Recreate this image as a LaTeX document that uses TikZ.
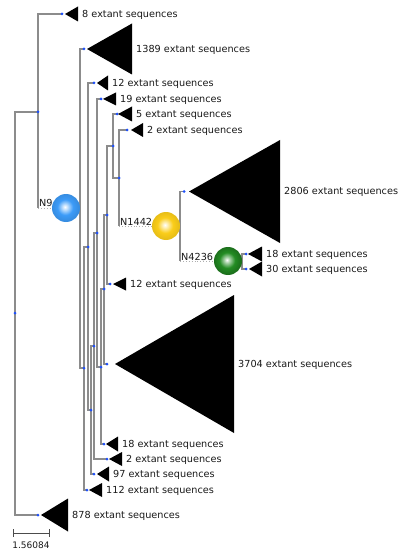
\documentclass[tikz,border=0pt]{standalone}
\usepackage{fontspec}
\setmainfont{DejaVu Sans}
\definecolor{branchgray}{RGB}{140,140,140}
\definecolor{dotblue}{RGB}{30,80,250}
\definecolor{nineblue}{RGB}{60,155,248}
\definecolor{kyellow}{RGB}{250,205,25}
\definecolor{kgreen}{RGB}{35,140,35}
\pgfdeclareradialshading{ballnine}{\pgfpoint{-2bp}{2bp}}{color(0bp)=(white); color(5bp)=(nineblue!35!white); color(14bp)=(nineblue); color(25bp)=(nineblue!90!black); color(50bp)=(nineblue!90!black)}
\pgfdeclareradialshading{ballyellow}{\pgfpoint{-2bp}{2bp}}{color(0bp)=(white); color(5bp)=(kyellow!35!white); color(14bp)=(kyellow); color(25bp)=(kyellow!92!black); color(50bp)=(kyellow!92!black)}
\pgfdeclareradialshading{ballgreen}{\pgfpoint{-2bp}{2bp}}{color(0bp)=(white); color(5bp)=(kgreen!40!white); color(14bp)=(kgreen); color(25bp)=(kgreen!78!black); color(50bp)=(kgreen!78!black)}
\newcommand\clade[6]{%
  \fill[clade] (#2,#3) -- (#4,#3-#5) -- (#4,#3+#5) -- cycle;
  \node[lbl] (#1) at (#4+4,#3+3.5) {#6};}
\begin{document}
\begin{tikzpicture}[x=1pt,y=-1pt,
  branch/.style={draw=branchgray,line width=1.1pt},
  labbranch/.style={draw=branchgray!70,line width=0.9pt,dotted},
  clade/.style={fill=black},
  lbl/.style={anchor=base west,inner sep=0pt,font=\fontsize{9.7}{11}\selectfont,text=black!90},
  ndlbl/.style={anchor=base west,inner sep=0pt,font=\fontsize{9.7}{11}\selectfont,text=black!90},
  sphere/.style={circle,inner sep=0pt,minimum size=28pt,shade},
  scalebar/.style={draw=black!70,line width=0.9pt}]
\useasboundingbox (0,0) rectangle (401,553);

% internal nodes
\coordinate (R) at (15,313);
\coordinate (K) at (38,112);
\coordinate (N9) at (80,208);
\coordinate (C) at (84,368);
\coordinate (D) at (88,247);
\coordinate (E) at (91,410);
\coordinate (F) at (94,346);
\coordinate (G) at (97,233);
\coordinate (H) at (101,367);
\coordinate (I) at (104,289);
\coordinate (J) at (107,215);
\coordinate (A) at (113,146);
\coordinate (B) at (119,178);
\coordinate (N1442) at (180,226);
\coordinate (N4236) at (242,261);

% collapsed clade tips
\coordinate (t8) at (62,14);
\coordinate (t1389) at (84,49);
\coordinate (t12a) at (94,83);
\coordinate (t19) at (101,99);
\coordinate (t5) at (117,114);
\coordinate (t2a) at (127,130);
\coordinate (t2806) at (184,191.5);
\coordinate (t18a) at (246,254);
\coordinate (t30) at (246,269);
\coordinate (t12b) at (110,284);
\coordinate (t3704) at (107,364);
\coordinate (t18b) at (104,444);
\coordinate (t2b) at (107,459);
\coordinate (t97) at (94,474);
\coordinate (t112) at (87,490);
\coordinate (t878) at (38,515);

% branches
\path[branch] (R) |- (K) (R) |- (t878) (K) |- (t8) (K) -- (K|-N9)
  (N9) |- (t1389) (N9) |- (C)
  (C) |- (D) (C) |- (t112)
  (D) |- (t12a) (D) |- (E)
  (E) |- (F) (E) |- (t97)
  (F) |- (G) (F) |- (t2b)
  (G) |- (t19) (G) |- (H)
  (H) |- (I) (H) |- (t18b)
  (I) |- (J) (I) |- (t3704)
  (J) |- (A) (J) |- (t12b)
  (A) |- (t5) (A) |- (B)
  (B) |- (t2a) (B) -- (B|-N1442)
  (N1442) |- (t2806) (N1442) -- (N1442|-N4236)
  (N4236) |- (t18a) (N4236) |- (t30);

% labelled ancestral nodes
\node[sphere,shading=ballnine] (ballN9) at (66,208) {};
\node[sphere,shading=ballyellow] (ballN1442) at (166,226) {};
\node[sphere,shading=ballgreen] (ballN4236) at (228,261) {};
\path[labbranch] (K|-N9) -- (ballN9.west)
  (B|-N1442) -- (ballN1442.west)
  (N1442|-N4236) -- (ballN4236.west);
\node[ndlbl] (labN9) at (39,207) {N9};
\node[ndlbl] (labN1442) at (120,225) {N1442};
\node[ndlbl] (labN4236) at (181,260) {N4236};

% node dots
\foreach \p in {R,K,C,D,E,F,G,H,I,J,A,B,t8,t1389,t12a,t19,t5,t2a,t2806,t18a,t30,t12b,t3704,t18b,t2b,t97,t112,t878}
  \fill[dotblue] (\p) circle (1.5pt);

% collapsed clades
\clade{l8}{65}{14}{78}{7.5}{8 extant sequences}
\clade{l1389}{87}{49}{132}{25.5}{1389 extant sequences}
\clade{l12a}{97}{83}{108}{7.5}{12 extant sequences}
\clade{l19}{103}{99}{116}{6.5}{19 extant sequences}
\clade{l5}{118}{114}{132}{7.5}{5 extant sequences}
\clade{l2a}{131}{130}{143}{7}{2 extant sequences}
\clade{l2806}{189}{191.5}{280}{51.5}{2806 extant sequences}
\clade{l18a}{248}{254}{262}{7.5}{18 extant sequences}
\clade{l30}{249}{269}{262}{7.5}{30 extant sequences}
\clade{l12b}{113}{284}{126}{6.5}{12 extant sequences}
\clade{l3704}{115}{364}{234}{69}{3704 extant sequences}
\clade{l18b}{106}{444}{118}{7.5}{18 extant sequences}
\clade{l2b}{109}{459}{122}{7}{2 extant sequences}
\clade{l97}{97}{474}{109}{7.5}{97 extant sequences}
\clade{l112}{89}{490}{102}{7}{112 extant sequences}
\clade{l878}{41}{515}{68}{16.5}{878 extant sequences}

% scale bar
\coordinate (s1) at (13,533);
\coordinate (s2) at (49,533);
\path[scalebar] (s1) -- (s2) (s1) ++(0,-4) -- ++(0,8) (s2) ++(0,-4) -- ++(0,8);
\node[anchor=base,inner sep=0pt,font=\fontsize{9}{10}\selectfont,text=black!90] (sblbl) at (31,548) {1.56084};
\end{tikzpicture}
\end{document}
